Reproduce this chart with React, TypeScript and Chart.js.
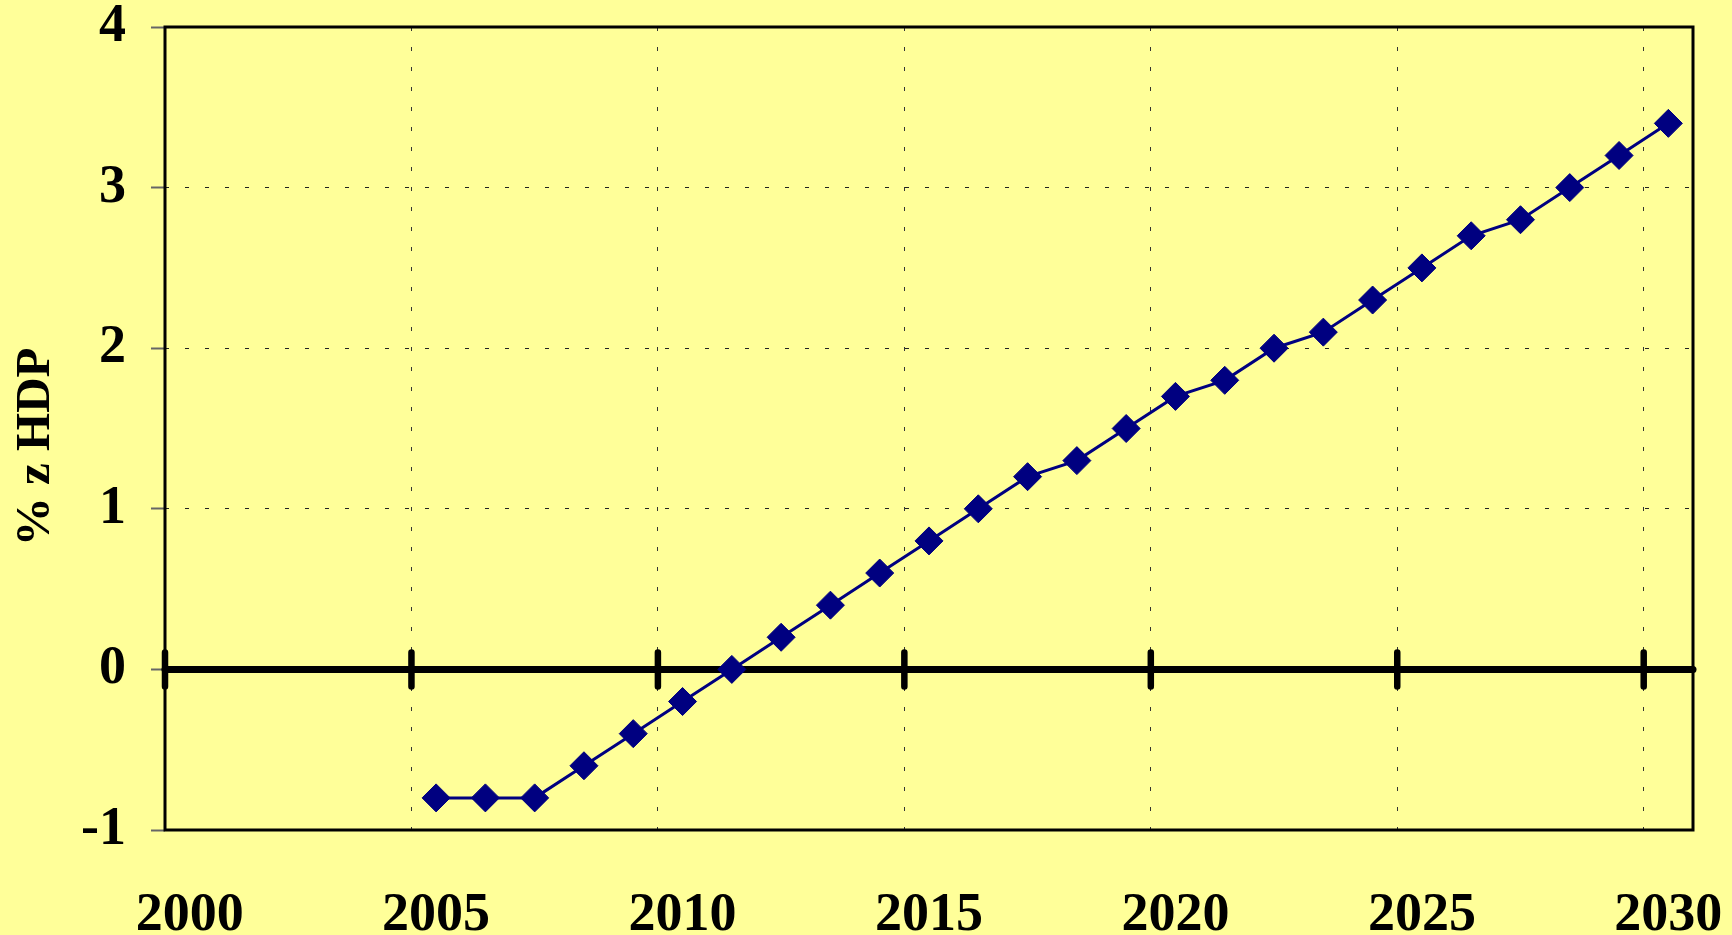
import { useEffect, useRef } from "react";
import { Chart, registerables } from "chart.js";

Chart.register(...registerables);

// ---- data ----
const years = [
  2005, 2006, 2007, 2008, 2009, 2010, 2011, 2012, 2013, 2014, 2015, 2016, 2017,
  2018, 2019, 2020, 2021, 2022, 2023, 2024, 2025, 2026, 2027, 2028, 2029, 2030,
];
const balance = [
  -0.8, -0.8, -0.8, -0.6, -0.4, -0.2, 0, 0.2, 0.4, 0.6, 0.8, 1.0, 1.2, 1.3, 1.5,
  1.7, 1.8, 2.0, 2.1, 2.3, 2.5, 2.7, 2.8, 3.0, 3.2, 3.4,
];
const xTickValues = [2000, 2005, 2010, 2015, 2020, 2025, 2030];
const yTickValues = [-1, 0, 1, 2, 3, 4];
const yAxisTitle = "% z HDP";

const FONT = "'Liberation Serif', 'Times New Roman', serif";
const BG = "#FFFF99";
const NAVY = "#000080";

const bgPlugin = {
  id: "bgFill",
  beforeDraw(chart: any) {
    const { ctx, width, height } = chart;
    ctx.save();
    ctx.fillStyle = BG;
    ctx.fillRect(0, 0, width, height);
    ctx.restore();
  },
};

const framePlugin = {
  id: "frameZero",
  beforeDatasetsDraw(chart: any) {
    const { ctx, chartArea: a, scales } = chart;
    const xs = scales.x;
    const ys = scales.y;
    ctx.save();
    ctx.strokeStyle = "#000";
    ctx.lineWidth = 3;
    ctx.strokeRect(a.left, a.top, a.right - a.left, a.bottom - a.top);
    const y0 = ys.getPixelForValue(0);
    ctx.lineWidth = 7;
    ctx.lineCap = "round";
    ctx.beginPath();
    ctx.moveTo(a.left, y0);
    ctx.lineTo(a.right, y0);
    ctx.stroke();
    ctx.lineWidth = 6.5;
    ctx.beginPath();
    for (const v of xTickValues) {
      const px = xs.getPixelForValue(v);
      ctx.moveTo(px, y0 - 17);
      ctx.lineTo(px, y0 + 17);
    }
    ctx.stroke();
    ctx.restore();
  },
};

export default function App() {
  const ref = useRef<HTMLCanvasElement | null>(null);

  useEffect(() => {
    document.body.style.margin = "0";
    document.body.style.background = BG;
    const canvas = ref.current;
    if (!canvas) return;
    const chart = new Chart(canvas, {
      type: "line",
      data: {
        datasets: [
          {
            data: years.map((yr, i) => ({ x: yr + 0.5, y: balance[i] })),
            borderColor: NAVY,
            borderWidth: 3,
            backgroundColor: NAVY,
            pointStyle: "rectRot",
            pointRadius: 14,
            pointBorderWidth: 1,
            pointBorderColor: NAVY,
            pointBackgroundColor: NAVY,
            tension: 0,
          },
        ],
      },
      options: {
        responsive: false,
        animation: false,
        events: [],
        layout: { padding: { top: 27, right: 39, left: 0, bottom: 0 } },
        plugins: {
          legend: { display: false },
          tooltip: { enabled: false },
          title: { display: false },
        },
        scales: {
          x: {
            type: "linear",
            position: "bottom",
            min: 2000,
            max: 2031,
            afterBuildTicks: (s: any) => {
              s.ticks = xTickValues.map((v) => ({ value: v }));
            },
            afterFit: (s: any) => {
              s.height = 0;
              s.paddingLeft = 0;
              s.paddingRight = 0;
            },
            grid: {
              display: true,
              drawTicks: false,
              lineWidth: 1,
              color: (c: any) =>
                c.tick && c.tick.value === 2000 ? "rgba(0,0,0,0)" : "#333",
            },
            border: { display: false, dash: [4, 16] },
            ticks: { display: false },
          },
          xLabels: {
            type: "linear",
            position: "bottom",
            min: 2000,
            max: 2031,
            afterBuildTicks: (s: any) => {
              s.ticks = xTickValues.map((v) => ({ value: v + 0.5 }));
            },
            afterFit: (s: any) => {
              s.height = 105;
              s.paddingLeft = 0;
              s.paddingRight = 0;
            },
            grid: { display: false, drawTicks: false },
            border: { display: false },
            ticks: {
              padding: 54,
              color: "#000",
              maxRotation: 0,
              autoSkip: false,
              font: { family: FONT, size: 54, weight: "bold" },
              callback: (v: any) => String(Math.round(v - 0.5)),
            },
          },
          y: {
            type: "linear",
            min: -1,
            max: 4,
            afterBuildTicks: (s: any) => {
              s.ticks = yTickValues.map((v) => ({ value: v }));
            },
            afterFit: (s: any) => {
              s.width = 165;
              s.paddingTop = 0;
              s.paddingBottom = 0;
            },
            grid: {
              display: true,
              drawTicks: true,
              tickLength: 14,
              tickWidth: 2,
              tickColor: "#666",
              lineWidth: 1,
              color: (c: any) => {
                const v = c.tick ? c.tick.value : null;
                return v === 1 || v === 2 || v === 3 ? "#222" : "rgba(0,0,0,0)";
              },
            },
            border: { display: false, dash: [4, 16] },
            ticks: {
              padding: 25,
              color: "#000",
              font: { family: FONT, size: 54, weight: "bold" },
              callback: (v: any) => String(v),
            },
            title: {
              display: true,
              text: yAxisTitle + "   ",
              color: "#000",
              padding: { top: 7, bottom: 0 },
              font: { family: FONT, size: 49, weight: "bold" },
            },
          },
        },
      },
      plugins: [bgPlugin, framePlugin],
    } as any);
    return () => chart.destroy();
  }, []);

  return (
    <div style={{ width: 1732, height: 935, background: BG }}>
      <canvas ref={ref} width={1732} height={935} style={{ display: "block" }} />
    </div>
  );
}
